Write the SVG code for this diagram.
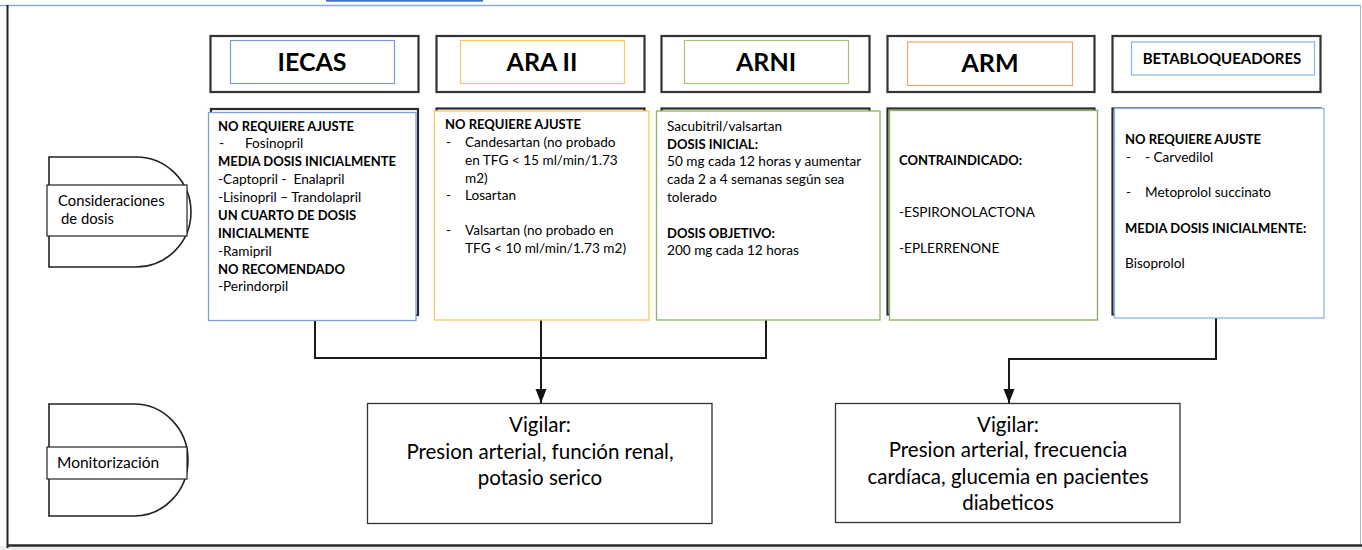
<svg xmlns="http://www.w3.org/2000/svg" width="1362" height="550" viewBox="0 0 1362 550">
<defs>
<style>
.hdr{fill:#fff;stroke:#333;stroke-width:2.2}
.shadow{fill:#fff;stroke:#2b2b2b;stroke-width:2.2}
.t{font-family:Lato,"Liberation Sans",sans-serif;fill:#000}
.b{font-weight:bold;font-size:13px}
.h{font-family:Lato,"Liberation Sans",sans-serif;font-weight:bold;font-size:25px;text-anchor:middle;fill:#000}
.body{font-size:13.6px}
.big{font-size:20.5px;text-anchor:middle}
.lab{font-size:14.8px}
.conn{fill:none;stroke:#1a1a1a;stroke-width:2}
.shape{fill:#fff;stroke:#222;stroke-width:1.6}
.vbox{fill:#fff;stroke:#333;stroke-width:1.3}
</style>
<marker id="arr" markerUnits="userSpaceOnUse" markerWidth="14" markerHeight="12" refX="14" refY="5.5" orient="auto">
<path d="M0,0 L14,5.5 L0,11 Z" fill="#111"/>
</marker>
</defs>
<rect x="0" y="0" width="1362" height="550" fill="#fff"/>
<rect x="0" y="546" width="1362" height="4" fill="#ececec"/>
<g id="frame">
<line x1="326" y1="0.8" x2="483" y2="0.8" stroke="#4472C4" stroke-width="2"/>
<line x1="0" y1="5.5" x2="1361" y2="5.5" stroke="#8EAADB" stroke-width="1.6"/>
<line x1="1360.5" y1="5" x2="1360.5" y2="545" stroke="#A9B8CF" stroke-width="1"/>
<line x1="7.5" y1="5" x2="7.5" y2="548" stroke="#222" stroke-width="2"/>
<line x1="7" y1="545.5" x2="1362" y2="545.5" stroke="#2a2a2a" stroke-width="2.4"/>
</g>

<g id="consideraciones">
<path class="shape" d="M49,157 H136 A55,55 0 0 1 136,267 H49 Z"/>
<rect x="47" y="185" width="140" height="51" fill="#fff" stroke="#222" stroke-width="1.2"/>
<text class="t lab" x="58" y="206">Consideraciones</text>
<text class="t lab" x="61" y="224">de dosis</text>
</g>

<g id="monitorizacion">
<path class="shape" d="M49,404 H134 A54,56 0 0 1 134,516 H49 Z"/>
<rect x="47" y="447" width="140" height="32" fill="#fff" stroke="#222" stroke-width="1.2"/>
<text class="t lab" x="57" y="468" style="font-size:15.5px">Monitorización</text>
</g>

<g id="h-iecas">
<rect class="hdr" x="210.5" y="36" width="208" height="56"/>
<rect x="230.5" y="40.5" width="164" height="43" fill="none" stroke="#7B9BD6" stroke-width="1.2"/>
<text class="h" x="312" y="71">IECAS</text>
</g>
<g id="h-araii">
<rect class="hdr" x="436.5" y="36" width="208" height="56"/>
<rect x="460.5" y="40.5" width="164" height="43" fill="none" stroke="#F7C95B" stroke-width="1.2"/>
<text class="h" x="542" y="71">ARA II</text>
</g>
<g id="h-arni">
<rect class="hdr" x="661.5" y="36" width="208" height="56"/>
<rect x="684.5" y="40.5" width="164" height="43" fill="none" stroke="#A6C27D" stroke-width="1.2"/>
<text class="h" x="766" y="71">ARNI</text>
</g>
<g id="h-arm">
<rect class="hdr" x="887.5" y="36" width="207" height="56"/>
<rect x="907.5" y="42" width="165" height="43.5" fill="none" stroke="#EFA46C" stroke-width="1.2"/>
<text class="h" x="990" y="72">ARM</text>
</g>
<g id="h-beta">
<rect class="hdr" x="1112.5" y="36" width="208" height="56"/>
<rect x="1131.5" y="42" width="183" height="33" fill="none" stroke="#8EB4E3" stroke-width="1.2"/>
<text class="h" x="1222" y="64" style="font-size:15px">BETABLOQUEADORES</text>
</g>

<g id="connectors">
<path class="conn" d="M315,321 V358 H766 V320"/>
<path class="conn" d="M541,320 V403" marker-end="url(#arr)"/>
<path class="conn" d="M1216,318 V359 H1009 V403" marker-end="url(#arr)"/>
</g>

<g id="c-iecas">
<rect class="shadow" x="211" y="109" width="207" height="206"/>
<rect x="208.5" y="112.5" width="207.5" height="208" fill="#fff" stroke="#7F9FD8" stroke-width="1.3"/>
<g class="t body">
<text x="218" y="131" class="b">NO REQUIERE AJUSTE</text>
<text x="219" y="148">-</text><text x="245" y="148">Fosinopril</text>
<text x="218" y="166" class="b">MEDIA DOSIS INICIALMENTE</text>
<text x="218" y="184" xml:space="preserve">-Captopril -  Enalapril</text>
<text x="218" y="202">-Lisinopril – Trandolapril</text>
<text x="218" y="220" class="b">UN CUARTO DE DOSIS</text>
<text x="218" y="238" class="b">INICIALMENTE</text>
<text x="218" y="256">-Ramipril</text>
<text x="218" y="274" class="b">NO RECOMENDADO</text>
<text x="218" y="291">-Perindorpil</text>
</g>
</g>

<g id="c-araii">
<rect class="shadow" x="436.5" y="108.5" width="208" height="206"/>
<rect x="434.5" y="111" width="214.5" height="209" fill="#fff" stroke="#F7C95B" stroke-width="1.3"/>
<g class="t body">
<text x="445" y="129" class="b">NO REQUIERE AJUSTE</text>
<text x="446" y="147">-</text><text x="465" y="147">Candesartan (no probado</text>
<text x="465" y="165">en TFG &lt; 15 ml/min/1.73</text>
<text x="465" y="183">m2)</text>
<text x="446" y="200">-</text><text x="465" y="200">Losartan</text>
<text x="446" y="235">-</text><text x="465" y="235">Valsartan (no probado en</text>
<text x="465" y="253">TFG &lt; 10 ml/min/1.73 m2)</text>
</g>
</g>

<g id="c-arni">
<rect class="shadow" x="661.5" y="108.5" width="208" height="206"/>
<rect x="656.5" y="111" width="223.5" height="209" fill="#fff" stroke="#8FB163" stroke-width="1.3"/>
<g class="t body">
<text x="667" y="131">Sacubitril/valsartan</text>
<text x="667" y="149" class="b">DOSIS INICIAL:</text>
<text x="667" y="166">50 mg cada 12 horas y aumentar</text>
<text x="667" y="184">cada 2 a 4 semanas según sea</text>
<text x="667" y="202">tolerado</text>
<text x="667" y="238" class="b">DOSIS OBJETIVO:</text>
<text x="667" y="255">200 mg cada 12 horas</text>
</g>
</g>

<g id="c-arm">
<rect class="shadow" x="887.5" y="108.5" width="207" height="206"/>
<rect x="889.5" y="110.5" width="208" height="209.5" fill="#fff" stroke="#8AAE5E" stroke-width="1.3"/>
<g class="t body">
<text x="899" y="165" class="b">CONTRAINDICADO:</text>
<text x="899" y="217">-ESPIRONOLACTONA</text>
<text x="899" y="253">-EPLERRENONE</text>
</g>
</g>

<g id="c-beta">
<rect class="shadow" x="1112.5" y="108.5" width="208" height="206"/>
<rect x="1114.5" y="108.5" width="209.5" height="209.5" fill="#fff" stroke="#8EB4E3" stroke-width="1.3"/>
<g class="t body">
<text x="1125" y="144" class="b">NO REQUIERE AJUSTE</text>
<text x="1126" y="162">-</text><text x="1145" y="162">- Carvedilol</text>
<text x="1126" y="197">-</text><text x="1145" y="197">Metoprolol succinato</text>
<text x="1125" y="233" class="b">MEDIA DOSIS INICIALMENTE:</text>
<text x="1125" y="268">Bisoprolol</text>
</g>
</g>

<g id="vigilar-1">
<rect class="vbox" x="367.5" y="403.5" width="344.5" height="120"/>
<g class="t big">
<text x="540" y="432">Vigilar:</text>
<text x="540" y="459">Presion arterial, función renal,</text>
<text x="540" y="485">potasio serico</text>
</g>
</g>

<g id="vigilar-2">
<rect class="vbox" x="835.5" y="403.5" width="344.5" height="119"/>
<g class="t big">
<text x="1008" y="432">Vigilar:</text>
<text x="1008" y="457">Presion arterial, frecuencia</text>
<text x="1008" y="484">cardíaca, glucemia en pacientes</text>
<text x="1008" y="510">diabeticos</text>
</g>
</g>
</svg>
